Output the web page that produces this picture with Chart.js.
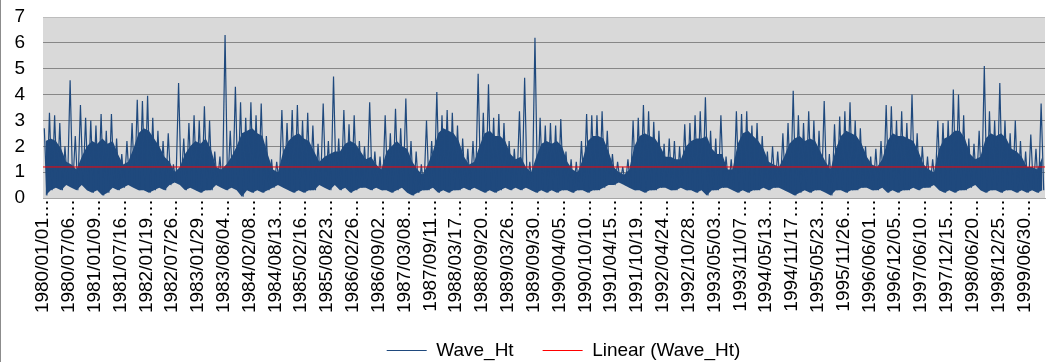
<!DOCTYPE html>
<html>
<head>
<meta charset="utf-8">
<script src="https://cdn.jsdelivr.net/npm/chart.js@4.4.0/dist/chart.umd.min.js"></script>
<style>
  body { margin: 0; background: #fff; }
</style>
</head>
<body>
<canvas id="myChart" width="1046" height="362"></canvas>
<script>
// tick labels, one every 5 columns (187 days apart)
const tickLabels = ['1980/01/01','1980/07/06','1981/01/09','1981/07/16','1982/01/19','1982/07/26',
  '1983/01/29','1983/08/04','1984/02/08','1984/08/13','1985/02/16','1985/08/23','1986/02/26',
  '1986/09/02','1987/03/08','1987/09/11','1988/03/17','1988/09/20','1989/03/26','1989/09/30',
  '1990/04/05','1990/10/10','1991/04/15','1991/10/19','1992/04/24','1992/10/28','1993/05/03',
  '1993/11/07','1994/05/13','1994/11/17','1995/05/23','1995/11/26','1996/06/01','1996/12/05',
  '1997/06/10','1997/12/15','1998/06/20','1998/12/25','1999/06/30'];

// Wave_Ht, one column per ~5px: peak, trough, top of the dense core
const waveHigh = [
  2.7,3.3,3.2,2.9,2.0,4.55,2.4,3.6,3.1,3.0,
  2.8,3.25,2.6,3.25,2.3,1.7,2.2,2.9,3.8,3.75,
  3.95,3.1,2.6,2.2,2.5,1.3,4.45,2.3,2.9,3.2,
  3.0,3.55,3.0,1.8,1.6,6.3,2.6,4.3,3.7,3.1,
  3.7,3.2,3.65,2.4,1.5,1.4,3.4,2.9,3.4,3.6,
  3.0,3.3,2.8,2.1,3.65,2.2,4.7,2.3,3.4,2.85,
  3.2,2.2,2.0,3.7,1.8,1.6,3.2,2.5,3.45,2.7,
  3.85,2.2,1.8,1.3,3.0,2.2,4.1,3.2,3.4,3.3,
  2.8,2.3,1.9,2.2,4.8,3.3,4.4,3.1,3.25,2.9,
  2.2,1.9,3.35,4.65,1.4,6.2,3.1,2.8,2.9,2.8,
  3.05,1.8,1.5,1.4,2.2,3.25,3.2,3.2,3.35,2.6,
  1.7,1.4,1.2,1.5,3.0,3.1,3.6,3.35,2.95,2.6,
  2.1,2.3,2.2,2.0,2.85,2.9,3.2,3.35,3.9,2.6,
  2.3,3.2,1.6,1.5,3.35,3.25,3.35,2.8,2.9,2.4,
  1.8,2.0,1.8,2.5,2.9,4.15,3.2,2.9,3.35,3.0,
  2.6,3.75,1.7,2.85,3.15,3.35,3.7,3.0,2.7,2.0,
  1.6,1.9,2.2,3.6,3.55,3.0,3.35,2.9,4.0,2.5,
  2.0,1.6,1.5,3.0,2.9,3.0,4.2,4.0,3.2,2.3,
  2.1,2.6,5.1,3.35,3.0,4.45,3.0,2.5,3.0,2.2,
  1.8,2.45,1.9,3.65];
const waveLow = [
  0.1,0.3,0.4,0.3,0.5,0.4,0.3,0.5,0.3,0.2,
  0.3,0.1,0.2,0.4,0.3,0.4,0.5,0.4,0.3,0.3,
  0.2,0.3,0.4,0.3,0.5,0.6,0.5,0.3,0.4,0.3,
  0.2,0.3,0.3,0.5,0.4,0.3,0.4,0.3,0.05,0.3,
  0.2,0.3,0.2,0.3,0.4,0.5,0.4,0.3,0.2,0.3,
  0.2,0.3,0.3,0.5,0.4,0.3,0.5,0.3,0.4,0.2,
  0.3,0.4,0.4,0.3,0.4,0.3,0.3,0.2,0.3,0.4,
  0.2,0.1,0.2,0.3,0.3,0.4,0.2,0.3,0.2,0.3,
  0.3,0.4,0.3,0.4,0.3,0.2,0.3,0.2,0.3,0.4,
  0.3,0.4,0.3,0.4,0.3,0.2,0.3,0.2,0.3,0.2,
  0.3,0.3,0.2,0.3,0.3,0.2,0.3,0.3,0.4,0.5,
  0.5,0.6,0.5,0.4,0.3,0.3,0.2,0.3,0.3,0.4,
  0.4,0.3,0.3,0.4,0.3,0.3,0.2,0.3,0.1,0.3,
  0.3,0.4,0.4,0.3,0.2,0.3,0.2,0.3,0.3,0.4,
  0.3,0.4,0.4,0.3,0.2,0.1,0.2,0.3,0.2,0.3,
  0.3,0.2,0.1,0.3,0.3,0.2,0.3,0.3,0.4,0.4,
  0.3,0.3,0.4,0.2,0.3,0.2,0.3,0.3,0.4,0.3,
  0.4,0.4,0.5,0.3,0.2,0.3,0.2,0.3,0.3,0.4,
  0.5,0.3,0.2,0.3,0.3,0.2,0.3,0.3,0.2,0.3,
  0.2,0.3,0.2,0.3];
const waveBand = [
  2.2,2.3,2.2,1.9,1.4,1.3,1.1,1.6,2.0,2.2,
  2.1,2.3,2.1,2.2,1.7,1.3,1.4,1.9,2.5,2.7,
  2.6,2.3,2.0,1.6,1.4,1.0,1.2,1.7,2.0,2.2,
  2.1,2.3,1.9,1.2,1.1,1.3,1.6,2.0,2.5,2.6,
  2.7,2.5,2.4,1.7,1.1,1.0,1.8,2.2,2.4,2.5,
  2.3,2.2,1.8,1.4,1.6,1.7,1.8,1.8,2.1,2.2,
  2.1,1.8,1.5,1.6,1.3,1.1,1.8,2.0,2.2,2.0,
  1.9,1.4,1.1,0.9,1.3,1.8,2.5,2.7,2.6,2.5,
  2.2,1.6,1.3,1.4,2.0,2.5,2.6,2.4,2.4,2.2,
  1.7,1.5,1.6,1.2,1.0,1.6,2.1,2.2,2.1,2.2,
  2.0,1.4,1.1,1.0,1.5,2.2,2.4,2.4,2.3,1.8,
  1.2,1.0,0.9,1.1,2.0,2.4,2.5,2.4,2.3,2.0,
  1.6,1.6,1.5,1.5,2.0,2.2,2.3,2.3,2.4,1.9,
  1.7,1.7,1.1,1.1,2.1,2.5,2.6,2.4,2.2,1.9,
  1.4,1.3,1.2,1.6,2.1,2.3,2.4,2.2,2.3,2.2,
  1.8,1.4,1.1,1.9,2.4,2.6,2.5,2.4,2.1,1.6,
  1.3,1.2,1.5,2.2,2.5,2.4,2.4,2.3,2.2,1.8,
  1.3,1.1,1.0,1.9,2.3,2.4,2.6,2.6,2.3,1.7,
  1.5,1.6,2.3,2.5,2.4,2.5,2.3,1.9,1.8,1.6,
  1.2,1.2,1.1,1.6];

// linear trendline end values
const trendStart = 1.2;
const trendEnd = 1.2;

const groupsPerLabel = 5;
const nGroups = waveHigh.length;

const waveHt = [];
const coreTop = [];
const coreBottom = [];
waveHigh.forEach((hi, g) => {
  waveHt.push({ x: g + 0.25, y: hi }, { x: g + 0.75, y: waveLow[g] });
  coreTop.push({ x: g + 0.5, y: waveBand[g] });
  coreBottom.push({ x: g + 0.5, y: waveLow[g] });
});
const linear = [{ x: 0, y: trendStart }, { x: nGroups, y: trendEnd }];

const plotBg = {
  id: 'plotBg',
  beforeDraw(chart) {
    const {ctx, chartArea: a} = chart;
    ctx.save();
    ctx.fillStyle = '#d9d9d9';
    ctx.fillRect(a.left, a.top, a.right - a.left, a.bottom - a.top);
    ctx.fillStyle = '#8c8c8c';
    ctx.fillRect(0, 0, 1, chart.height);
    ctx.restore();
  },
  afterLayout(chart) {
    // legend sits a little right of centre and lower in the original
    const lg = chart.legend;
    lg.left += 41; lg.right += 41;
    lg.top += 8; lg.bottom += 8;
    // let the rotated dates run past the axis box without clipping
    const xs = chart.scales.x;
    xs.bottom = xs.top + 125;
    xs.height = 125;
  }
};

const font = { family: "'Liberation Sans', Arial, sans-serif", size: 19 };
const blue = '#1f497d';

const ctx = document.getElementById('myChart').getContext('2d');
const myChart = new Chart(ctx, {
  type: 'line',
  data: {
    datasets: [
      {
        label: 'Wave_Ht',
        data: waveHt,
        borderColor: blue,
        backgroundColor: blue,
        borderWidth: 1.2,
        borderJoinStyle: 'bevel',
        pointRadius: 0,
        order: 2
      },
      {
        label: 'Linear (Wave_Ht)',
        data: linear,
        borderColor: '#ff0000',
        backgroundColor: '#ff0000',
        borderWidth: 1,
        pointRadius: 0,
        order: 1
      },
      {
        label: 'core',
        data: coreTop,
        borderWidth: 0,
        pointRadius: 0,
        backgroundColor: blue,
        fill: '+1',
        order: 3
      },
      {
        label: 'coreBottom',
        data: coreBottom,
        borderWidth: 0,
        pointRadius: 0,
        order: 3
      }
    ]
  },
  options: {
    responsive: false,
    animation: false,
    devicePixelRatio: 1,
    layout: { padding: { top: 17, right: 1 } },
    plugins: {
      tooltip: { enabled: false },
      legend: {
        position: 'bottom',
        labels: {
          font: font,
          color: '#000',
          boxWidth: 40,
          boxHeight: 1,
          padding: 29,
          filter: item => item.datasetIndex < 2,
          sort: (a, b) => a.datasetIndex - b.datasetIndex,
          generateLabels: chart => Chart.defaults.plugins.legend.labels.generateLabels(chart)
            .map(l => Object.assign(l, { lineWidth: 0, fillStyle: l.strokeStyle }))
        }
      }
    },
    scales: {
      x: {
        type: 'linear',
        min: 0,
        max: nGroups,
        grid: { drawOnChartArea: false, drawTicks: false },
        border: { color: '#a6a6a6' },
        ticks: {
          stepSize: groupsPerLabel,
          maxTicksLimit: 100,
          includeBounds: false,
          autoSkip: false,
          maxRotation: 90,
          minRotation: 90,
          padding: 1,
          font: font,
          color: '#000',
          callback: v => {
            const k = v / groupsPerLabel;
            return Number.isInteger(k) && tickLabels[k] ? tickLabels[k] + '…' : '';
          }
        },
        afterFit: s => { s.height = 106; s.paddingLeft = 0; s.paddingRight = 0; }
      },
      y: {
        min: 0,
        max: 7,
        ticks: { stepSize: 1, padding: 18, font: font, color: '#000' },
        grid: { color: c => c.tick && c.tick.value === 7 ? '#bdbdbd' : '#878787', drawTicks: false },
        border: { display: false },
        afterFit: s => { s.width = 43; s.paddingTop = 0; s.paddingBottom = 0; }
      }
    }
  },
  plugins: [plotBg]
});
</script>
</body>
</html>
